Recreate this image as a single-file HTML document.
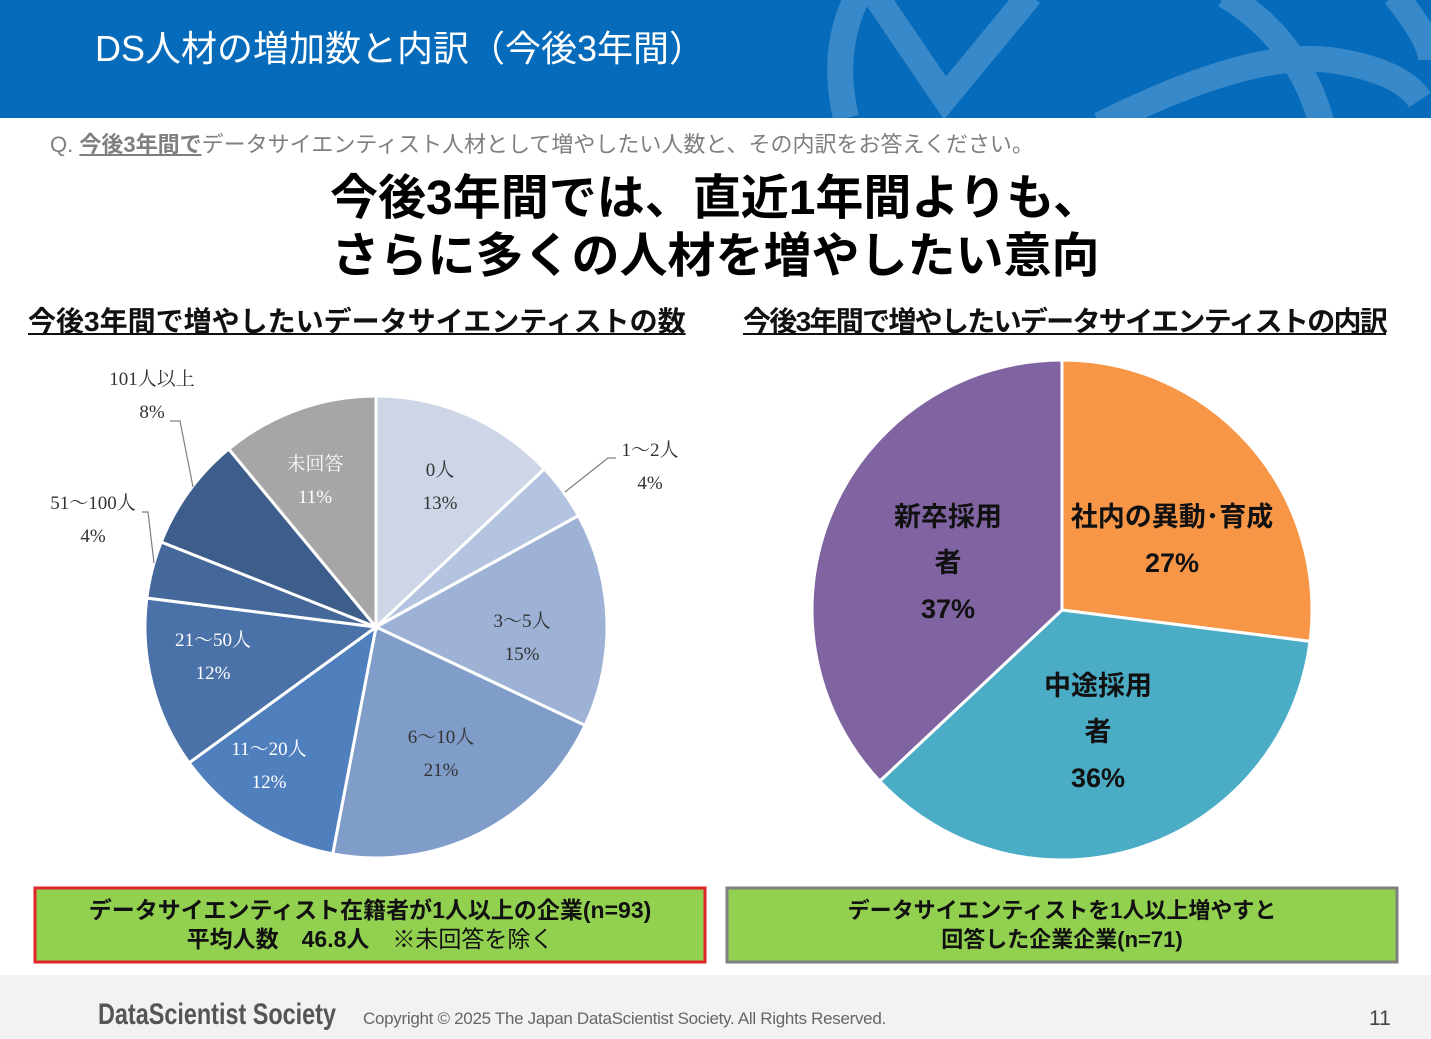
<!DOCTYPE html>
<html><head><meta charset="utf-8"><style>
html,body{margin:0;padding:0;background:#fff;}
body{width:1431px;height:1039px;position:relative;overflow:hidden;font-family:"Liberation Sans","Noto Sans CJK JP",sans-serif;}
.t{position:absolute;white-space:nowrap;}
</style></head><body>
<svg width="1431" height="1039" style="position:absolute;left:0;top:0" xmlns="http://www.w3.org/2000/svg">
<defs><clipPath id="hc"><rect x="0" y="0" width="1431" height="118"/></clipPath></defs>
<rect x="0" y="0" width="1431" height="118" fill="#056bba"/>
<g fill="none" stroke="#3889ca" stroke-width="26" stroke-linecap="butt" clip-path="url(#hc)">
<path d="M846,118 Q830,50 858,-5"/>
<path d="M875,-5 L945,98 L1030,-5"/>
<path d="M1225,-5 Q1300,40 1322,125"/>
<path d="M1100,125 Q1250,50 1330,60 Q1400,70 1420,100"/>
<path d="M1395,-5 Q1431,40 1431,60"/>
</g>
<rect x="0" y="975" width="1431" height="64" fill="#f2f2f2"/>
<g id="left"></g>
<g id="right"></g>
<g stroke="#7f7f7f" stroke-width="1.2" fill="none">
<polyline points="565,492 608,458 616,458"/>
<polyline points="193,487 180,421 170,421"/>
<polyline points="154,563 148,512 142,512"/>
</g>
<rect x="35" y="888" width="670" height="74" fill="#92d050" stroke="#e0262b" stroke-width="3"/>
<rect x="727" y="888" width="670" height="74" fill="#92d050" stroke="#7f7f7f" stroke-width="3"/>
</svg>
<div class="t" style="left:95px;top:20px;font-size:36px;color:#fff;">DS人材の増加数と内訳（今後3年間）</div>
<div class="t" style="left:50px;top:127px;font-size:22px;color:#7f7f7f;">Q. <b style="text-decoration:underline">今後3年間で</b>データサイエンティスト人材として増やしたい人数と、その内訳をお答えください。</div>
<div class="t" style="left:0;width:1431px;text-align:center;top:170px;font-size:48px;font-weight:bold;line-height:58px;color:#000;">今後3年間では、直近1年間よりも、<br>さらに多くの人材を増やしたい意向</div>
<div class="t" style="left:28px;top:300px;font-size:28px;font-weight:bold;letter-spacing:0px;text-decoration:underline;color:#111;">今後3年間で増やしたいデータサイエンティストの数</div>
<div class="t" style="left:743px;top:300px;font-size:28px;font-weight:bold;letter-spacing:-1.7px;text-decoration:underline;color:#111;">今後3年間で増やしたいデータサイエンティストの内訳</div>
<div style="position:absolute;left:0;top:0;font-family:'Liberation Serif','Noto Serif CJK JP',serif;font-size:19px;line-height:33px;text-align:center;">
<div class="t" style="left:92px;top:363px;width:120px;color:#333">101人以上<br>8%</div>
<div class="t" style="left:590px;top:434px;width:120px;color:#333">1〜2人<br>4%</div>
<div class="t" style="left:33px;top:487px;width:120px;color:#333">51〜100人<br>4%</div>
<div class="t" style="left:380px;top:454px;width:120px;color:#333">0人<br>13%</div>
<div class="t" style="left:255px;top:448px;width:120px;color:#fff">未回答<br>11%</div>
<div class="t" style="left:462px;top:605px;width:120px;color:#333">3〜5人<br>15%</div>
<div class="t" style="left:381px;top:721px;width:120px;color:#333">6〜10人<br>21%</div>
<div class="t" style="left:209px;top:733px;width:120px;color:#fff">11〜20人<br>12%</div>
<div class="t" style="left:153px;top:624px;width:120px;color:#fff">21〜50人<br>12%</div>
</div>
<div style="position:absolute;left:0;top:0;font-size:27px;font-weight:bold;line-height:46px;text-align:center;color:#111;">
<div class="t" style="left:1052px;top:494px;width:240px;">社内の異動･育成<br>27%</div>
<div class="t" style="left:868px;top:494px;width:160px;">新卒採用<br>者<br>37%</div>
<div class="t" style="left:1018px;top:663px;width:160px;">中途採用<br>者<br>36%</div>
</div>
<div class="t" style="left:35px;width:670px;top:896px;text-align:center;font-size:23px;font-weight:bold;line-height:29px;color:#111;">データサイエンティスト在籍者が1人以上の企業(n=93)<br>平均人数　46.8人　<span style="font-weight:normal">※未回答を除く</span></div>
<div class="t" style="left:727px;width:670px;top:896px;text-align:center;font-size:22px;font-weight:bold;line-height:29px;color:#111;">データサイエンティストを1人以上増やすと<br>回答した企業企業(n=71)</div>
<div class="t" style="left:98px;top:998px;font-size:30px;font-weight:bold;color:#555;transform:scaleX(0.78);transform-origin:left;">DataScientist Society</div>
<div class="t" style="left:363px;top:1009px;font-size:17px;color:#666;letter-spacing:-0.3px;">Copyright © 2025 The Japan DataScientist Society. All Rights Reserved.</div>
<div class="t" style="left:1369px;top:1007px;font-size:21px;color:#444;">11</div>
<script>
function pie(id,cx,cy,r,data){
 var g=document.getElementById(id),a=0,s='';
 data.forEach(function(d){
  var a0=a*2*Math.PI/100,a1=(a+d[0])*2*Math.PI/100;a+=d[0];
  var x0=cx+r*Math.sin(a0),y0=cy-r*Math.cos(a0),x1=cx+r*Math.sin(a1),y1=cy-r*Math.cos(a1);
  s+='<path d="M'+cx+','+cy+' L'+x0+','+y0+' A'+r+','+r+' 0 '+(d[0]>50?1:0)+' 1 '+x1+','+y1+' Z" fill="'+d[1]+'" stroke="#fff" stroke-width="3"/>';
 });
 g.innerHTML=s;
}
pie('left',376,627,231,[[13,'#cdd5e6'],[4,'#b4c3df'],[15,'#9db2d5'],[21,'#7f9dc8'],[12,'#4f7fbd'],[12,'#4a72a9'],[4,'#45689b'],[8,'#3d5e8b'],[11,'#a6a6a6']]);
pie('right',1062,610,250,[[27,'#f79646'],[36,'#4bacc6'],[37,'#8064a2']]);
</script>
</body></html>
